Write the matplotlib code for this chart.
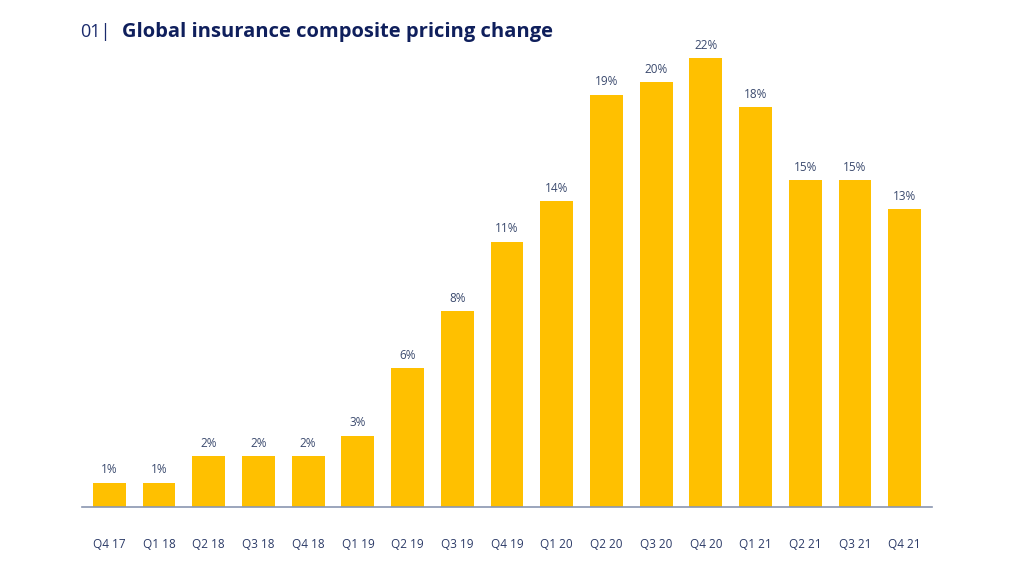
import matplotlib.pyplot as plt

# quarters and composite pricing change
quarters = ['Q4 17', 'Q1 18', 'Q2 18', 'Q3 18', 'Q4 18', 'Q1 19', 'Q2 19', 'Q3 19', 'Q4 19',
            'Q1 20', 'Q2 20', 'Q3 20', 'Q4 20', 'Q1 21', 'Q2 21', 'Q3 21', 'Q4 21']
labels = ['1%', '1%', '2%', '2%', '2%', '3%', '6%', '8%', '11%',
          '14%', '19%', '20%', '22%', '18%', '15%', '15%', '13%']
# bar heights as drawn in the picture (not exactly proportional to labels)
heights = [1.2, 1.2, 2.5, 2.5, 2.5, 3.5, 6.8, 9.6, 13.0,
           15.0, 20.2, 20.8, 22.0, 19.6, 16.0, 16.0, 14.6]

plt.rcParams['font.family'] = ['Open Sans', 'DejaVu Sans']

fig = plt.figure(figsize=(10.28, 5.78), dpi=100)
ax = fig.add_axes([82 / 1028, 71 / 578, 850 / 1028, 490 / 578])

x = range(len(quarters))
ax.bar(x, heights, width=0.66, color='#FFC000')
for i, h in enumerate(heights):
    ax.text(i, h + 0.3, labels[i], ha='center', va='bottom', fontsize=8.5, color='#3b4a6e')

ax.set_xlim(-0.55, 16.55)
ax.set_ylim(0, 24)
ax.set_xticks(list(x))
ax.set_xticklabels(quarters, fontsize=8.5, color='#2b3a67')
ax.tick_params(axis='x', length=0, pad=22)
ax.set_yticks([])
for s in ['top', 'right', 'left']:
    ax.spines[s].set_visible(False)
ax.spines['bottom'].set_color('#8a96b0')
ax.spines['bottom'].set_linewidth(1.2)

fig.text(80 / 1028, 1 - 32 / 578, '01|', fontsize=13, color='#1a2a6c', va='center', ha='left')
fig.text(122 / 1028, 1 - 32 / 578, 'Global insurance composite pricing change', fontsize=14.5,
         fontweight='bold', color='#0f1f5c', va='center', ha='left')

fig.savefig('out.png', dpi=100)
